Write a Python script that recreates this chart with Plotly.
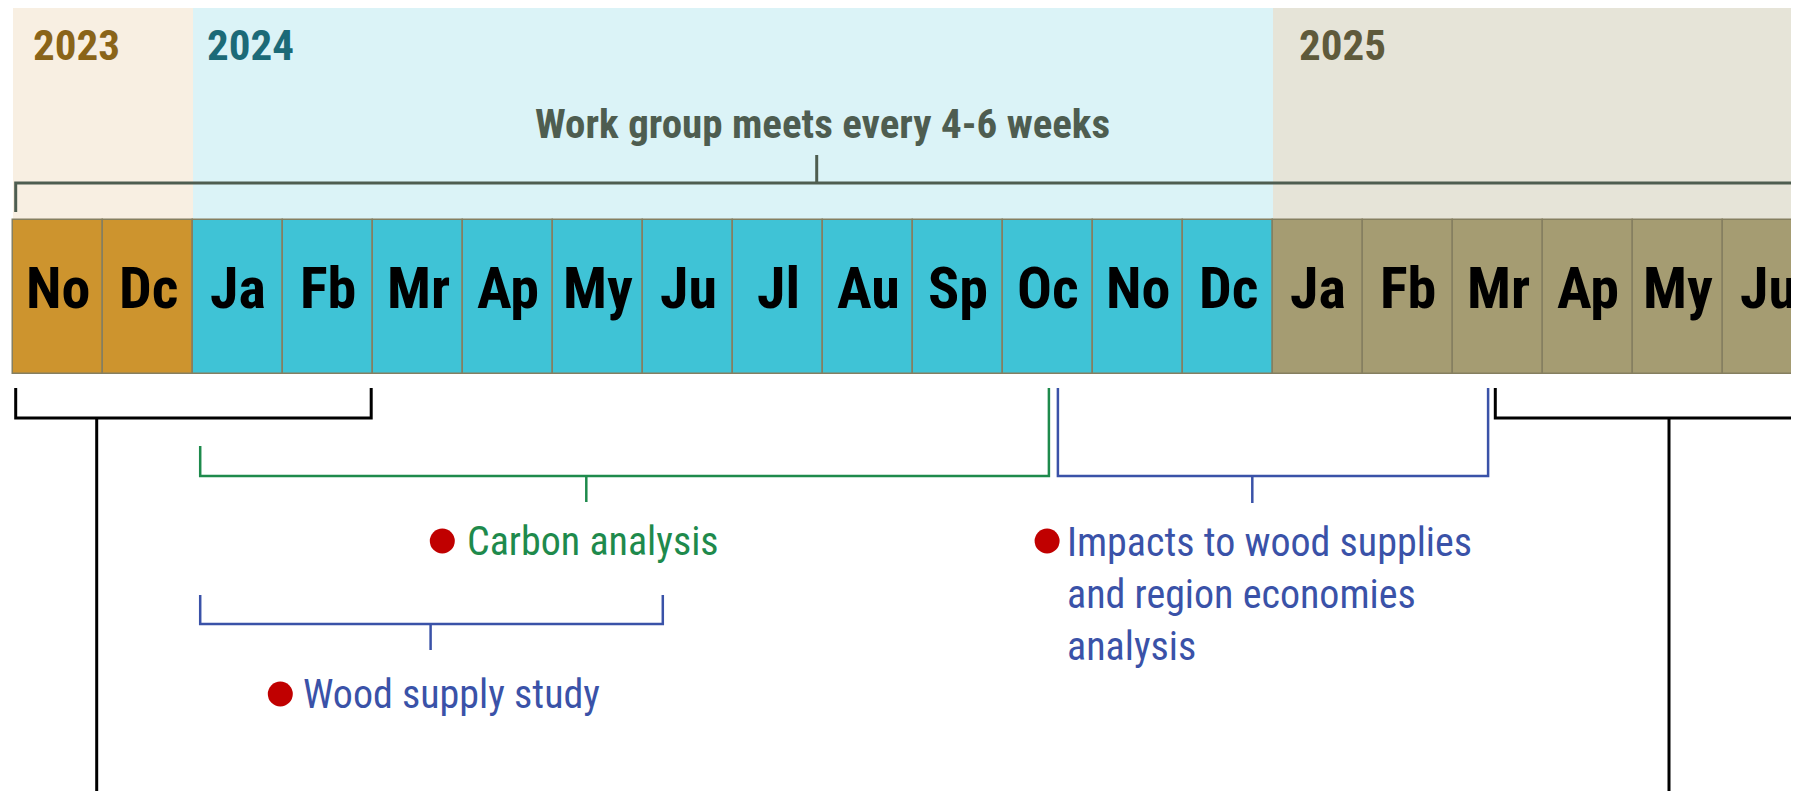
import plotly.graph_objects as go

# ---------------- data ----------------
months = ["No", "Dc", "Ja", "Fb", "Mr", "Ap", "My", "Ju", "Jl", "Au",
          "Sp", "Oc", "No", "Dc", "Ja", "Fb", "Mr", "Ap", "My", "Ju"]
month_years = [2023, 2023, 2024, 2024, 2024, 2024, 2024, 2024, 2024, 2024,
               2024, 2024, 2024, 2024, 2025, 2025, 2025, 2025, 2025, 2025]

years = [2023, 2024, 2025]
year_start = [0, 2, 14]      # month index where the year begins
year_end = [2, 14, 21]       # month index where the year ends (2025 runs off the page)

# work streams (in month units, 0 = start of Nov 2023)
task_names = ["Work group meets every 4-6 weeks", "Carbon analysis",
              "Wood supply study",
              "Impacts to wood supplies<br>and region economies<br>analysis"]
task_start = [0.03, 2.08, 2.08, 11.61]
task_end = [21.5, 11.51, 7.22, 16.39]
task_mid = [8.93, 6.37, 4.64, 13.77]

# phase brackets (black)
phase_start = [0.03, 16.47]
phase_end = [3.98, 22.0]
phase_stem = [0.93, 18.4]

# ---------------- style ----------------
FONT = "Liberation Sans Narrow, Arial Narrow, Roboto Condensed, DejaVu Sans Condensed, sans-serif"
year_cell_col = {2023: "#cd942e", 2024: "#3fc3d6", 2025: "#a59c72"}
year_band_col = {2023: "#f8efe2", 2024: "#dbf3f7", 2025: "#e6e4d8"}
year_text_col = {2023: "#8a6419", 2024: "#1b6a78", 2025: "#5f5a3b"}
year_label_pad = [0.2, 0.13, 0.27]
task_col = ["#4e5d50", "#1e8a4c", "#3a52a8", "#3a52a8"]
RED = "#c00000"

PAGE_OFF = 8                  # browser body margin
W, H = 1799 - PAGE_OFF, 791 - PAGE_OFF
X0 = (PAGE_OFF - 13) / 90.0
X1 = X0 + W / 90.0

BAND_TOP, CELL_TOP, CELL_BOT = 5, 220, 374

fig = go.Figure()

# year background bands
fig.add_trace(go.Bar(
    x=[(s + e) / 2 for s, e in zip(year_start, year_end)],
    width=[e - s for s, e in zip(year_start, year_end)],
    y=[CELL_TOP - BAND_TOP] * len(years), base=BAND_TOP,
    marker=dict(color=[year_band_col[y] for y in years], line=dict(width=0)),
    hoverinfo="skip", showlegend=False))

# month cells
fig.add_trace(go.Bar(
    x=[i + 0.5 for i in range(len(months))], width=1.0,
    y=[CELL_BOT - CELL_TOP] * len(months), base=CELL_TOP,
    marker=dict(color=[year_cell_col[y] for y in month_years],
                line=dict(color="#857f60", width=1.5)),
    hoverinfo="skip", showlegend=False))

# month labels
for i, m in enumerate(months):
    fig.add_annotation(x=i + 0.5, y=288, text=m, showarrow=False,
                       xanchor="center", yanchor="middle",
                       font=dict(family=FONT, size=58, color="#000000", weight="bold"))

# year labels
for y, s, pad in zip(years, year_start, year_label_pad):
    fig.add_annotation(x=s + pad, y=45, text=str(y), showarrow=False,
                       xanchor="left", yanchor="middle",
                       font=dict(family=FONT, size=43, color=year_text_col[y], weight="bold"))

# work-group bracket (above cells)
wx = [task_start[0], task_start[0], task_end[0], None, task_mid[0], task_mid[0]]
wy = [212, 183, 183, None, 183, 155]
fig.add_trace(go.Scatter(x=wx, y=wy, mode="lines",
                         line=dict(color=task_col[0], width=3),
                         hoverinfo="skip", showlegend=False))
fig.add_annotation(x=task_mid[0] + 0.06, y=124, text=task_names[0], showarrow=False,
                   xanchor="center", yanchor="middle",
                   font=dict(family=FONT, size=41, color="#4e5d50", weight="bold"))

# black phase brackets with long stems
px, py = [], []
for s, e, st in zip(phase_start, phase_end, phase_stem):
    px += [s, s, e, e, None, st, st, None]
    py += [388, 418, 418, 388, None, 418, 800, None]
fig.add_trace(go.Scatter(x=px, y=py, mode="lines",
                         line=dict(color="#000000", width=3),
                         hoverinfo="skip", showlegend=False))

# task brackets below cells
leg_top_l = [None, 446, 595, 388]
leg_top_r = [None, 388, 595, 388]
bar_y = [None, 476, 624, 476]
tick_bot = [None, 502, 650, 503]
for k in range(1, 4):
    fig.add_trace(go.Scatter(
        x=[task_start[k], task_start[k], task_end[k], task_end[k], None, task_mid[k], task_mid[k]],
        y=[leg_top_l[k], bar_y[k], bar_y[k], leg_top_r[k], None, bar_y[k], tick_bot[k]],
        mode="lines", line=dict(color=task_col[k], width=2.5),
        hoverinfo="skip", showlegend=False))

# task labels with red bullets
label_x = [None, 5.02, 3.2, 11.69]
label_y = [None, 541, 694, 594]
dot_x = [None, 4.77, 2.97, 11.49]
dot_y = [None, 541, 694, 541]
fig.add_trace(go.Scatter(x=dot_x[1:], y=dot_y[1:], mode="markers",
                         marker=dict(color=RED, size=25, line=dict(width=0)),
                         hoverinfo="skip", showlegend=False))
for k in range(1, 4):
    fig.add_annotation(x=label_x[k], y=label_y[k], text=task_names[k], showarrow=False,
                       xanchor="left", yanchor="middle", align="left",
                       font=dict(family=FONT, size=40, color=task_col[k]))

fig.update_layout(
    width=W, height=H, margin=dict(l=0, r=0, t=0, b=0),
    paper_bgcolor="#ffffff", plot_bgcolor="#ffffff",
    barmode="overlay", bargap=0,
    xaxis=dict(range=[X0, X1], visible=False, fixedrange=True),
    yaxis=dict(range=[H + PAGE_OFF, PAGE_OFF], visible=False, fixedrange=True),
)

fig.write_html("out.html")
